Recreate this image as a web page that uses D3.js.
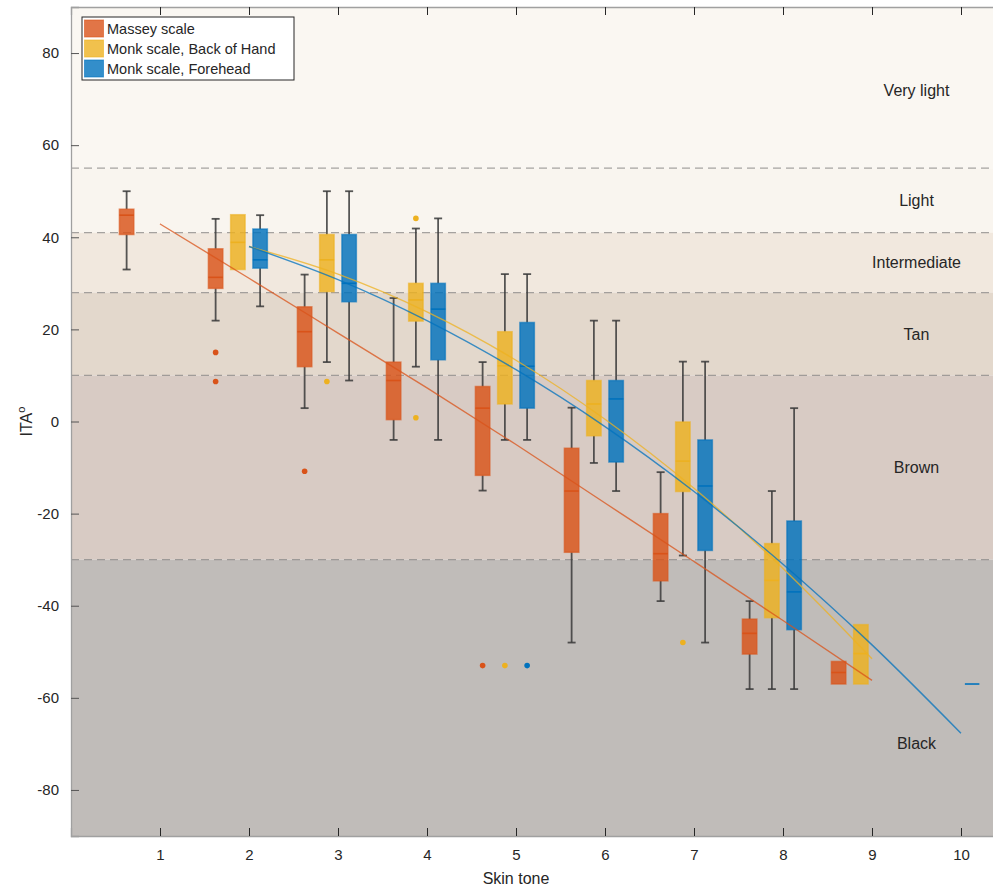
<!DOCTYPE html>
<html>
<head>
<meta charset="utf-8">
<script src="https://cdn.jsdelivr.net/npm/d3@7"></script>
<style>
  body { margin: 0; background: #fff; }
  text { font-family: "Liberation Sans", Arial, sans-serif; fill: #262626; }
</style>
</head>
<body>
<div id="chart-container"></div>
<script>
// skin tone categories on x
const tones = [1, 2, 3, 4, 5, 6, 7, 8, 9, 10];
const seriesNames = ["Massey scale", "Monk scale, Back of Hand", "Monk scale, Forehead"];
const seriesColors = ["#D95319", "#EDB120", "#0072BD"];

// box stats: [tone, lower whisker, q1, median, q3, upper whisker]
const massey = [
    [1, 33, 40.6, 44.8, 46.1, 50],
    [2, 21.9, 28.9, 31.3, 37.5, 44],
    [3, 2.9, 11.9, 19.5, 24.9, 31.9],
    [4, -4, 0.4, 8.9, 12.9, 26.8],
    [5, -15, -11.7, 2.9, 7.6, 12.9],
    [6, -48, -28.4, -15.1, -5.8, 3],
    [7, -39, -34.6, -28.7, -20, -11],
    [8, -58.1, -50.5, -46, -42.9, -39],
    [9, -57, -57, -54.5, -52.1, -52.1]
];
const monkHand = [
    [2, 33, 33, 38.9, 44.9, 44.9],
    [3, 12.9, 28.2, 35.1, 40.6, 50],
    [4, 11.9, 21.8, 26.4, 30, 41.9],
    [5, -4, 3.8, 12.1, 19.5, 32],
    [6, -9, -3.1, 3.8, 8.9, 21.9],
    [7, -29.1, -15.2, -8.6, -0.1, 13],
    [8, -58.1, -42.6, -34.5, -26.5, -15.1],
    [9, -57, -57, -50.4, -44.1, -44.1]
];
const monkForehead = [
    [2, 25, 33.3, 35.1, 41.8, 44.8],
    [3, 8.9, 26, 30, 40.6, 50],
    [4, -4, 13.4, 24.4, 30, 44.1],
    [5, -4, 2.9, 12, 21.5, 32],
    [6, -15.1, -8.8, 4.9, 8.9, 21.9],
    [7, -48, -28, -14, -4, 13],
    [8, -58.1, -45.2, -37, -21.6, 2.9],
    [10, -57, -57, -57, -57, -57]
];

// outliers: [tone, value]
const masseyOutliers = [[2, 15], [2, 8.7], [3, -10.8], [5, -53]];
const monkHandOutliers = [[3, 8.7], [4, 44.1], [4, 0.8], [5, -53], [7, -48]];
const monkForeheadOutliers = [[5, -53]];

// fitted trend lines: [tone, ITA]
const masseyTrend = [[1, 42.9], [2, 31.1], [3, 19.2], [4, 7.3], [5, -5.0], [6, -17.7], [7, -30.4], [8, -43.2], [9, -56.2]];
const monkHandTrend = [[2, 38.0], [3, 32.0], [4, 23.8], [5, 13.3], [6, 0.5], [7, -14.5], [8, -31.9], [9, -51.5]];
const monkForeheadTrend = [[2, 38.0], [3, 30.8], [4, 21.9], [5, 11.25], [6, -1.1], [7, -15.2], [8, -31.0], [9, -48.5], [10, -67.7]];

// ITA categories
const bandNames = ["Very light", "Light", "Intermediate", "Tan", "Brown", "Black"];
const bandLimits = [[55, 90], [41, 55], [28, 41], [10, 28], [-30, 10], [-90, -30]];
const bandColors = ["#faf7f2", "#f9f5ef", "#f1e8de", "#e3d8cc", "#d8cbc4", "#c0bcb9"];
const bandLabelValues = [72, 48, 34.5, 19, -10, -70];

const yTicks = [-80, -60, -40, -20, 0, 20, 40, 60, 80];

const margin = { top: 7, right: 0, bottom: 55, left: 71 };
const fullW = 993, fullH = 891;
const height = fullH - margin.top - margin.bottom;

const svg = d3.select("#chart-container")
    .append("svg")
    .attr("width", fullW)
    .attr("height", fullH);

const g = svg.append("g")
    .attr("transform", `translate(${margin.left}, ${margin.top})`);

const xScale = d3.scaleLinear()
    .domain([0, 10.5])
    .range([0, 89 * 10.5]);
const yScale = d3.scaleLinear()
    .domain([-90, 90])
    .range([height, 0]);

// background bands
g.selectAll(".band")
    .data(bandLimits)
    .enter()
    .append("rect")
    .attr("x", 0)
    .attr("width", xScale(10.5))
    .attr("y", d => yScale(d[1]))
    .attr("height", d => yScale(d[0]) - yScale(d[1]))
    .attr("fill", (d, i) => bandColors[i]);

// dashed boundaries
g.selectAll(".bound")
    .data(bandLimits.slice(0, 5))
    .enter()
    .append("line")
    .attr("x1", 0)
    .attr("x2", xScale(10.5))
    .attr("y1", d => yScale(d[0]))
    .attr("y2", d => yScale(d[0]))
    .attr("stroke", "#8a8785")
    .attr("stroke-opacity", 0.75)
    .attr("stroke-width", 1.3)
    .attr("stroke-dasharray", "8,5");

// band labels
g.selectAll(".band-label")
    .data(bandNames)
    .enter()
    .append("text")
    .attr("x", xScale(9.5))
    .attr("y", (d, i) => yScale(bandLabelValues[i]))
    .attr("dy", "0.35em")
    .attr("text-anchor", "middle")
    .style("font-size", "16px")
    .text(d => d);

// axes
const xAxis = d3.axisBottom(xScale).tickValues(tones).tickSize(-8).tickPadding(13);
const yAxis = d3.axisLeft(yScale).tickValues(yTicks).tickSize(-8).tickPadding(12)
    .tickFormat(d => String(d));

const xg = g.append("g")
    .attr("transform", `translate(0, ${height})`)
    .call(xAxis);
const yg = g.append("g").call(yAxis);
const tg = g.append("g").call(d3.axisTop(xScale).tickValues(tones).tickSize(-8).tickFormat(""));

[xg, yg, tg].forEach(a => {
    a.select(".domain").attr("stroke", "#a0a0a0").attr("stroke-width", 1.3);
    a.selectAll(".tick line").attr("stroke", "#262626").attr("stroke-width", 1);
    a.selectAll(".tick text")
        .style("font-size", "15px")
        .style("font-family", "Liberation Sans, Arial, sans-serif")
        .attr("fill", "#262626");
});
yg.selectAll(".tick line").attr("stroke", "#555");

// axis titles
svg.append("text")
    .attr("x", margin.left + xScale(5))
    .attr("y", 884)
    .attr("text-anchor", "middle")
    .style("font-size", "16px")
    .text("Skin tone");

const yLab = svg.append("text")
    .attr("transform", `translate(32, ${margin.top + yScale(0)}) rotate(-90)`)
    .attr("text-anchor", "middle")
    .style("font-size", "16px");
yLab.append("tspan").text("ITA");
yLab.append("tspan").attr("dy", "-7").style("font-size", "11px").text("o");

// boxes
const offsets = [-0.375, -0.125, 0.125];
const boxW = 14.5;
const allStats = [massey, monkHand, monkForehead];
const allOutliers = [masseyOutliers, monkHandOutliers, monkForeheadOutliers];
const allTrends = [masseyTrend, monkHandTrend, monkForeheadTrend];

allStats.forEach((stats, si) => {
    const col = seriesColors[si];
    const bg = g.append("g").attr("class", "series-" + si);
    const cx = d => xScale(d[0] + offsets[si]);

    // whiskers
    bg.selectAll(".whisker")
        .data(stats.filter(d => d[1] < d[2] || d[5] > d[4]))
        .enter()
        .each(function(d) {
            const sel = d3.select(this);
            [[d[1], d[2]], [d[4], d[5]]].forEach(([a, b]) => {
                if (a === b) return;
                sel.append("line")
                    .attr("x1", cx(d)).attr("x2", cx(d))
                    .attr("y1", yScale(a)).attr("y2", yScale(b))
                    .attr("stroke", "#3a3a3a").attr("stroke-opacity", 0.85).attr("stroke-width", 1.8);
            });
            [d[1], d[5]].forEach((v, k) => {
                if (v === (k === 0 ? d[2] : d[4])) return;
                sel.append("line")
                    .attr("x1", cx(d) - 4).attr("x2", cx(d) + 4)
                    .attr("y1", yScale(v)).attr("y2", yScale(v))
                    .attr("stroke", "#3a3a3a").attr("stroke-opacity", 0.85).attr("stroke-width", 1.8);
            });
        });

    bg.selectAll(".box")
        .data(stats)
        .enter()
        .append("rect")
        .attr("x", d => cx(d) - boxW / 2)
        .attr("width", boxW)
        .attr("y", d => yScale(d[4]))
        .attr("height", d => Math.max(0, yScale(d[2]) - yScale(d[4])))
        .attr("fill", col)
        .attr("fill-opacity", 0.82)
        .attr("stroke", col)
        .attr("stroke-opacity", 0.6)
        .attr("stroke-width", 1.5);

    bg.selectAll(".median")
        .data(stats)
        .enter()
        .append("line")
        .attr("x1", d => cx(d) - boxW / 2)
        .attr("x2", d => cx(d) + boxW / 2)
        .attr("y1", d => yScale(d[3]))
        .attr("y2", d => yScale(d[3]))
        .attr("stroke", col)
        .attr("stroke-width", 1.6);

    bg.selectAll(".outlier")
        .data(allOutliers[si])
        .enter()
        .append("circle")
        .attr("cx", d => xScale(d[0] + offsets[si]))
        .attr("cy", d => yScale(d[1]))
        .attr("r", 2.8)
        .attr("fill", col);
});

// trend lines
const line = d3.line()
    .x(d => xScale(d[0]))
    .y(d => yScale(d[1]))
    .curve(d3.curveMonotoneX);

allTrends.forEach((tr, si) => {
    g.append("path")
        .datum(tr)
        .attr("d", line)
        .attr("fill", "none")
        .attr("stroke", seriesColors[si])
        .attr("stroke-opacity", 0.75)
        .attr("stroke-width", 1.4);
});

// legend
const leg = svg.append("g").attr("transform", "translate(82, 17)");
leg.append("rect")
    .attr("width", 212)
    .attr("height", 63)
    .attr("fill", "#fff")
    .attr("stroke", "#262626")
    .attr("stroke-width", 1);
seriesNames.forEach((name, i) => {
    leg.append("rect")
        .attr("x", 2.5).attr("y", 3 + i * 20)
        .attr("width", 19).attr("height", 17)
        .attr("fill", seriesColors[i]).attr("fill-opacity", 0.8)
        .attr("stroke", seriesColors[i]).attr("stroke-opacity", 0.6);
    leg.append("text")
        .attr("x", 25).attr("y", 12 + i * 20)
        .attr("dy", "0.35em")
        .style("font-size", "14.5px")
        .text(name);
});
</script>
</body>
</html>
